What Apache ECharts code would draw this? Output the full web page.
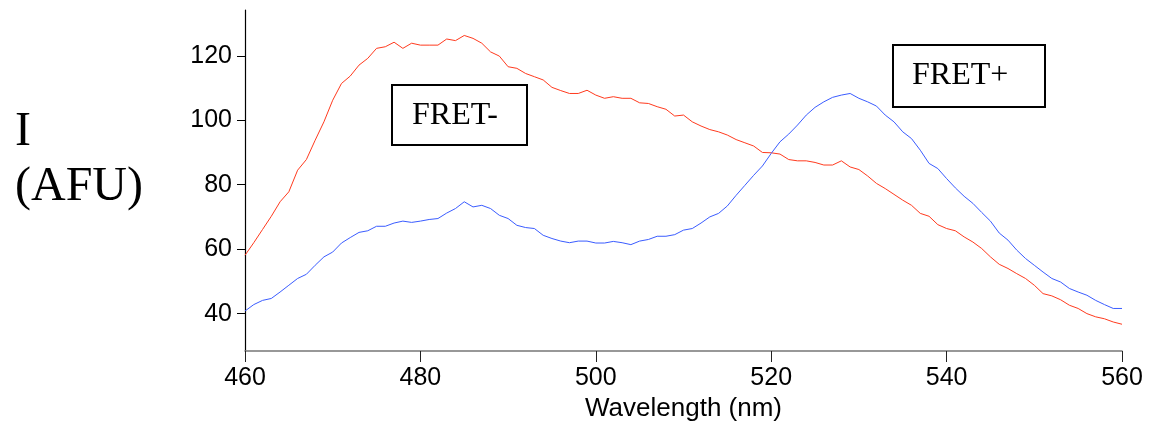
<!DOCTYPE html>
<html>
<head>
<meta charset="utf-8">
<script src="https://cdn.jsdelivr.net/npm/echarts@6/dist/echarts.min.js"></script>
<style>
  html, body { margin: 0; padding: 0; background: #fff; }
  #chart { width: 1149px; height: 425px; }
</style>
</head>
<body>
<div id="chart"></div>
<script>
// Emission spectra, 1 nm steps from 460 to 560 nm
const startWavelength = 460;
const endWavelength = 560;

// FRET- (red) intensity, AFU
const fretMinus = [
  58.1, 62.0, 66.1, 70.2, 74.7, 77.8, 84.5, 87.8, 93.8, 99.5,
  106.2, 111.4, 113.7, 117.1, 119.2, 122.3, 122.8, 124.2, 122.3, 123.9,
  123.3, 123.3, 123.3, 125.2, 124.7, 126.3, 125.4, 123.9, 121.2, 119.9,
  116.6, 116.1, 114.5, 113.5, 112.5, 110.2, 109.2, 108.3, 108.3, 109.3,
  107.8, 106.8, 107.3, 106.8, 106.8, 105.4, 105.2, 104.2, 103.4, 101.3,
  101.6, 99.5, 98.2, 97.1, 96.4, 95.4, 94.0, 93.0, 92.0, 90.0,
  89.9, 89.5, 87.8, 87.4, 87.4, 86.9, 86.1, 86.1, 87.4, 85.5,
  84.7, 82.7, 80.4, 78.8, 77.0, 75.2, 73.6, 71.1, 70.2, 67.6,
  66.4, 65.7, 63.8, 62.2, 60.2, 57.6, 55.3, 54.0, 52.4, 50.9,
  48.8, 46.2, 45.5, 44.3, 42.6, 41.6, 40.0, 39.0, 38.4, 37.4,
  36.7
];

// FRET+ (blue) intensity, AFU
const fretPlus = [
  40.8, 42.8, 44.1, 44.7, 46.7, 48.8, 50.9, 52.2, 55.0, 57.6,
  59.1, 61.9, 63.6, 65.2, 65.7, 67.1, 67.1, 68.1, 68.7, 68.3,
  68.7, 69.2, 69.5, 71.2, 72.6, 74.7, 73.1, 73.6, 72.6, 70.5,
  69.5, 67.4, 66.7, 66.4, 64.3, 63.3, 62.5, 62.0, 62.5, 62.5,
  61.9, 61.9, 62.4, 62.0, 61.4, 62.5, 63.0, 64.0, 64.0, 64.5,
  65.9, 66.4, 68.1, 70.0, 71.1, 73.4, 76.7, 79.8, 82.9, 85.8,
  89.7, 93.3, 95.7, 98.5, 101.6, 104.0, 105.7, 107.1, 107.8, 108.3,
  106.8, 105.7, 104.4, 101.6, 99.5, 96.4, 94.3, 90.7, 86.6, 85.0,
  81.9, 79.0, 76.4, 74.2, 71.4, 68.7, 65.0, 62.8, 59.7, 57.1,
  55.0, 52.9, 50.9, 49.8, 47.8, 46.7, 45.7, 44.1, 42.8, 41.6,
  41.6
];

const xTicks = [460, 480, 500, 520, 540, 560];
const yTicks = [40, 60, 80, 100, 120];

const wavelengths = [];
for (let w = startWavelength; w <= endWavelength; w++) wavelengths.push(w);

const pairs = (vals) => wavelengths.map((w, i) => [w, vals[i]]);

const chart = echarts.init(document.getElementById('chart'), null, { renderer: 'canvas' });

chart.setOption({
  animation: false,
  backgroundColor: '#ffffff',
  grid: { left: 245, right: 27, top: 10, bottom: 74, containLabel: false, outerBoundsMode: 'none' },
  xAxis: {
    type: 'value',
    min: 460,
    max: 560,
    interval: 20,
    name: 'Wavelength (nm)',
    nameLocation: 'middle',
    nameGap: 42,
    nameTextStyle: { fontFamily: 'Liberation Sans', fontSize: 26, color: '#000' },
    axisLine: { show: true, lineStyle: { color: '#777', width: 1.5 } },
    axisTick: { show: true, inside: false, length: 11, lineStyle: { color: '#222', width: 1 } },
    axisLabel: {
      fontFamily: 'Liberation Sans', fontSize: 25, color: '#000', margin: 15,
      formatter: (v) => (xTicks.includes(v) ? String(v) : '')
    },
    splitLine: { show: false }
  },
  yAxis: {
    type: 'value',
    min: 28.4,
    max: 134.2,
    axisLine: { show: true, lineStyle: { color: '#000', width: 1.2 } },
    axisTick: { show: true, inside: false, length: 8, customValues: yTicks, lineStyle: { color: '#000', width: 1 } },
    axisLabel: {
      fontFamily: 'Liberation Sans', fontSize: 25, color: '#000', margin: 13,
      padding: [9, 0, 0, 0],
      customValues: yTicks
    },
    splitLine: { show: false }
  },
  series: [
    {
      name: 'FRET-',
      type: 'line',
      data: pairs(fretMinus),
      showSymbol: false,
      smooth: false,
      lineStyle: { color: '#ff3a1e', width: 1 },
      z: 3
    },
    {
      name: 'FRET+',
      type: 'line',
      data: pairs(fretPlus),
      showSymbol: false,
      smooth: false,
      lineStyle: { color: '#3a5cff', width: 1 },
      z: 3
    }
  ],
  graphic: [
    { type: 'text', left: 15, top: 108, style: { text: 'I', font: '48px "Liberation Serif"', fill: '#000' } },
    { type: 'text', left: 15, top: 163, style: { text: '(AFU)', font: '48px "Liberation Serif"', fill: '#000' } },
    {
      type: 'rect', shape: { x: 392, y: 85, width: 135, height: 60 },
      style: { fill: '#fff', stroke: '#000', lineWidth: 2 }, z: 10
    },
    { type: 'text', x: 412, y: 100, z: 11, style: { text: 'FRET-', font: '32px "Liberation Serif"', fill: '#000' } },
    {
      type: 'rect', shape: { x: 893, y: 45, width: 152, height: 62 },
      style: { fill: '#fff', stroke: '#000', lineWidth: 2 }, z: 10
    },
    { type: 'text', x: 912, y: 60, z: 11, style: { text: 'FRET+', font: '32px "Liberation Serif"', fill: '#000' } }
  ]
});
</script>
</body>
</html>
